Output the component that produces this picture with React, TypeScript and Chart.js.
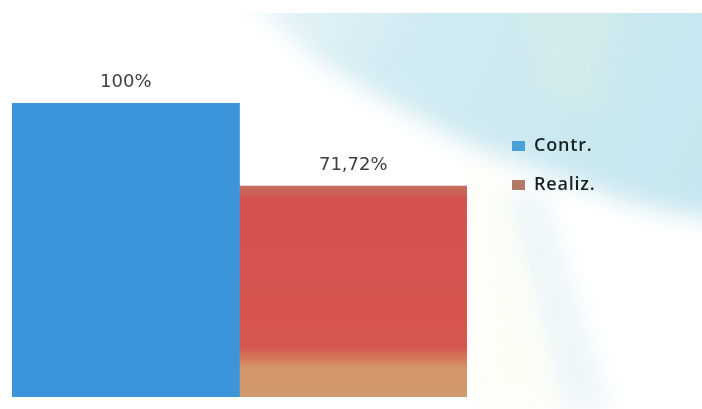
import React, { useEffect, useRef } from "react";
import { Chart, registerables } from "chart.js";

Chart.register(...registerables);

const categories = [""];
const seriesNames = ["Contr.", "Realiz."];
const contrValues = [100];
const realizValues = [71.72];
const valueLabels = ["100%", "71,72%"];
const legendColors = ["#4a9fd8", "#b07a68"];

const W = 702;
const H = 409;

const bgPlugin = {
  id: "bgSwoosh",
  beforeDraw(chart: any) {
    const { ctx, width, height } = chart;
    ctx.save();
    ctx.fillStyle = "#ffffff";
    ctx.fillRect(0, 0, width, height);
    ctx.filter = "blur(12px)";
    const g = ctx.createLinearGradient(260, 14, 702, 230);
    g.addColorStop(0, "#e6f4f7");
    g.addColorStop(0.3, "#d1ebf2");
    g.addColorStop(1, "#c6e6ef");
    ctx.fillStyle = g;
    ctx.beginPath();
    ctx.moveTo(215, -30);
    ctx.lineTo(740, -30);
    ctx.lineTo(740, 225);
    ctx.lineTo(640, 205);
    ctx.lineTo(560, 178);
    ctx.lineTo(470, 145);
    ctx.lineTo(400, 108);
    ctx.lineTo(320, 62);
    ctx.closePath();
    ctx.fill();
    // pale green tint
    ctx.fillStyle = "rgba(220,240,225,0.35)";
    ctx.beginPath();
    ctx.moveTo(520, 0);
    ctx.lineTo(620, 0);
    ctx.lineTo(600, 110);
    ctx.lineTo(540, 100);
    ctx.closePath();
    ctx.fill();
    // faint streak
    ctx.fillStyle = "rgba(200,230,238,0.35)";
    ctx.beginPath();
    ctx.moveTo(505, 190);
    ctx.lineTo(545, 195);
    ctx.lineTo(610, 409);
    ctx.lineTo(565, 409);
    ctx.closePath();
    ctx.fill();
    // pale yellow band
    ctx.fillStyle = "rgba(250,251,235,0.5)";
    ctx.beginPath();
    ctx.moveTo(470, 160);
    ctx.lineTo(500, 175);
    ctx.lineTo(560, 409);
    ctx.lineTo(480, 409);
    ctx.closePath();
    ctx.fill();
    ctx.filter = "none";
    ctx.fillStyle = "#ffffff";
    ctx.fillRect(0, 0, width, 13);
    ctx.restore();
  },
};

const labelPlugin = {
  id: "valueLabels",
  afterDatasetsDraw(chart: any) {
    const { ctx } = chart;
    ctx.save();
    ctx.font = '18px "DejaVu Sans"';
    ctx.fillStyle = "#404040";
    ctx.textAlign = "center";
    ctx.textBaseline = "alphabetic";
    chart.data.datasets.forEach((_ds: any, i: number) => {
      const meta = chart.getDatasetMeta(i);
      meta.data.forEach((bar: any) => {
        ctx.fillText(valueLabels[i], bar.x, bar.y - 16);
      });
    });
    ctx.restore();
  },
};

const legendPlugin = {
  id: "customLegend",
  afterDraw(chart: any) {
    const { ctx, chartArea } = chart;
    ctx.save();
    ctx.font = '600 18px "Open Sans"';
    (ctx as any).letterSpacing = "0.8px";
    ctx.textBaseline = "alphabetic";
    ctx.textAlign = "left";
    const boxX = chartArea.right + 45;
    chart.data.datasets.forEach((ds: any, i: number) => {
      const base = chartArea.top + 48 + i * 39;
      ctx.fillStyle = legendColors[i];
      ctx.fillRect(boxX, base - 10, 13, 10);
      ctx.fillStyle = "#18221f";
      ctx.fillText(ds.label, boxX + 22, base);
    });
    ctx.restore();
  },
};

function redFill(context: any) {
  const chart = context.chart;
  const a = chart.chartArea;
  if (!a) return "#d4574f";
  const g = chart.ctx.createLinearGradient(0, a.top, 0, a.bottom);
  g.addColorStop(0, "#c66a5c");
  g.addColorStop(0.29, "#c66a5c");
  g.addColorStop(0.33, "#d4524f");
  g.addColorStop(0.83, "#d6574f");
  g.addColorStop(0.9, "#d49468");
  g.addColorStop(1, "#d09c6e");
  return g;
}

export default function App() {
  const ref = useRef<HTMLCanvasElement | null>(null);
  useEffect(() => {
    if (!ref.current) return;
    const chart = new Chart(ref.current, {
      type: "bar",
      data: {
        labels: categories,
        datasets: [
          {
            label: seriesNames[0],
            data: contrValues,
            backgroundColor: "#3c95da",
            borderWidth: 0,
            categoryPercentage: 1,
            barPercentage: 1,
          },
          {
            label: seriesNames[1],
            data: realizValues,
            backgroundColor: redFill,
            borderWidth: 0,
            categoryPercentage: 1,
            barPercentage: 1,
          },
        ],
      },
      options: {
        responsive: false,
        animation: false,
        layout: { padding: { left: 12, right: 235, top: 103, bottom: 12 } },
        plugins: {
          legend: { display: false },
          tooltip: { enabled: false },
        },
        scales: {
          x: { display: false, grid: { display: false } },
          y: { display: false, min: 0, max: 100, grid: { display: false } },
        },
      },
      plugins: [bgPlugin, labelPlugin, legendPlugin],
    });
    return () => chart.destroy();
  }, []);
  return (
    <div style={{ position: "absolute", left: 0, top: 0, width: W, height: H }}>
      <canvas ref={ref} width={W} height={H} style={{ width: W, height: H, display: "block" }} />
    </div>
  );
}
